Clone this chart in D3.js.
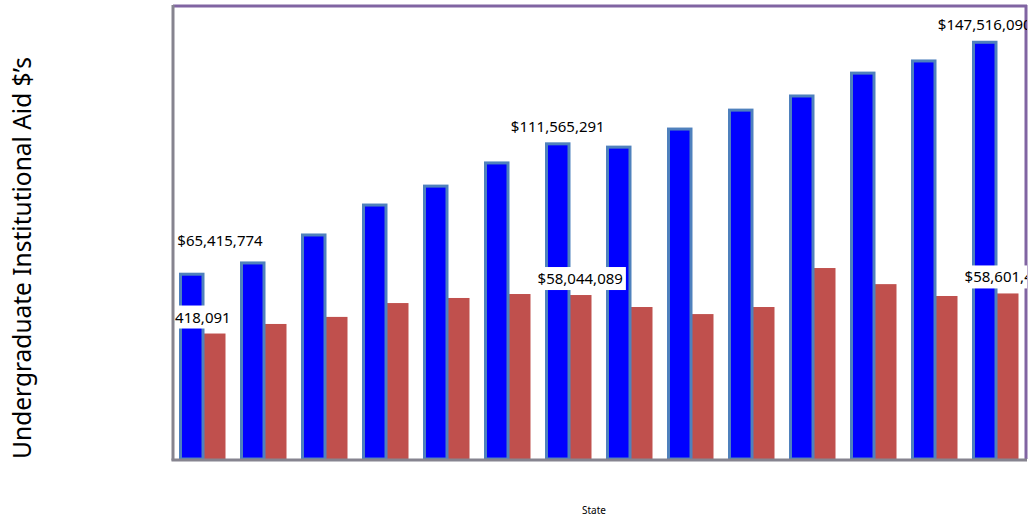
<!DOCTYPE html>
<html>
<head>
<meta charset="utf-8">
<script src="https://cdn.jsdelivr.net/npm/d3@7"></script>
<style>
  body { margin: 0; background: #fff; }
  text { font-family: "Noto Sans", "Open Sans", sans-serif; }
</style>
</head>
<body>
<div id="chart"></div>
<script>
// Data
var states = ["S1","S2","S3","S4","S5","S6","S7","S8","S9","S10","S11","S12","S13","S14"];
var aidTotal = [65415774, 69400000, 79300000, 89900000, 96600000, 104800000, 111565291,
                110400000, 116800000, 123500000, 128500000, 136600000, 140900000, 147516090];
var aidOther = [44418091, 47800000, 50300000, 55200000, 57000000, 58400000, 58044089,
                53800000, 51300000, 53800000, 67600000, 61900000, 57700000, 58601430];
var labelIdx = [0, 6, 13]; // bars that carry a value label
var yMax = 160000000;

var width = 1028, height = 517;
var pLeft = 173, pRight = 1027, pTop = 7, pBottom = 459;

var svg = d3.select("#chart").append("svg")
    .attr("width", width).attr("height", height);

var x = d3.scaleBand().domain(states).range([pLeft, pRight]).paddingInner(0).paddingOuter(0);
var y = d3.scaleLinear().domain([0, yMax]).range([pBottom, pTop]);

var bw = 22.5, off = 7.5;
var fmt = function(v){ return "$" + d3.format(",")(v); };

svg.append("clipPath").attr("id","plotclip")
  .append("rect").attr("x", pLeft).attr("y", 0).attr("width", pRight - pLeft).attr("height", pBottom);

var gBars = svg.append("g");

// red bars
gBars.selectAll("rect.red").data(aidOther).enter().append("rect")
    .attr("class","red")
    .attr("x", function(d,i){ return x(states[i]) + off + bw; })
    .attr("y", function(d){ return y(d); })
    .attr("width", bw)
    .attr("height", function(d){ return pBottom - y(d); })
    .style("fill", "#c0504d");

// blue bars
gBars.selectAll("rect.blue").data(aidTotal).enter().append("rect")
    .attr("class","blue")
    .attr("x", function(d,i){ return x(states[i]) + off; })
    .attr("y", function(d){ return y(d); })
    .attr("width", bw)
    .attr("height", function(d){ return pBottom - y(d); })
    .style("fill", "#0000ff")
    .style("stroke", "#4f81bd")
    .style("stroke-width", 3);

// frame
svg.append("line").attr("x1", pLeft).attr("x2", pRight).attr("y1", pTop - 1).attr("y2", pTop - 1)
    .style("stroke", "#8064a2").style("stroke-width", 3);
svg.append("line").attr("x1", pRight - 1).attr("x2", pRight - 1).attr("y1", pTop - 2).attr("y2", pBottom)
    .style("stroke", "#8064a2").style("stroke-width", 3);

// labels
var gLab = svg.append("g").attr("clip-path", "url(#plotclip)");
function addLabel(cx, baseY, txt, bg){
    var g = gLab.append("g");
    var t = g.append("text").attr("x", cx).attr("y", baseY)
        .attr("text-anchor","middle").style("font-size","15px").style("fill","#000").text(txt);
    if (bg){
        var b = t.node().getBBox();
        g.insert("rect","text").attr("x", b.x - 3).attr("y", b.y - 1)
            .attr("width", b.width + 6).attr("height", b.height + 3).style("fill","#fff");
    }
}
labelIdx.forEach(function(i){
    var cxB = x(states[i]) + off + bw/2;
    var cxR = x(states[i]) + off + bw*1.5;
    var bx = cxB, bdy = 12;
    var rx = cxR;
    if (i === 0) { bx = pLeft + 47; bdy = 28; rx = pLeft + 15; }
    addLabel(bx, y(aidTotal[i]) - bdy, fmt(aidTotal[i]), false);
    addLabel(rx, y(aidOther[i]) - 11, fmt(aidOther[i]), true);
});

svg.append("line").attr("x1", pLeft).attr("x2", pLeft).attr("y1", pTop - 2).attr("y2", pBottom + 1.5)
    .style("stroke", "#86848f").style("stroke-width", 3);
svg.append("line").attr("x1", pLeft - 1.5).attr("x2", pRight).attr("y1", pBottom + 1).attr("y2", pBottom + 1)
    .style("stroke", "#86848f").style("stroke-width", 3);

// axis titles
svg.append("text").attr("transform", "translate(31,258) rotate(-90)")
    .attr("text-anchor","middle").style("font-size","24.5px").style("fill","#000")
    .text("Undergraduate Institutional Aid $\u2019s");
svg.append("text").attr("x", 594).attr("y", 514).attr("text-anchor","middle")
    .style("font-size","10px").style("fill","#000").text("State");
</script>
</body>
</html>
